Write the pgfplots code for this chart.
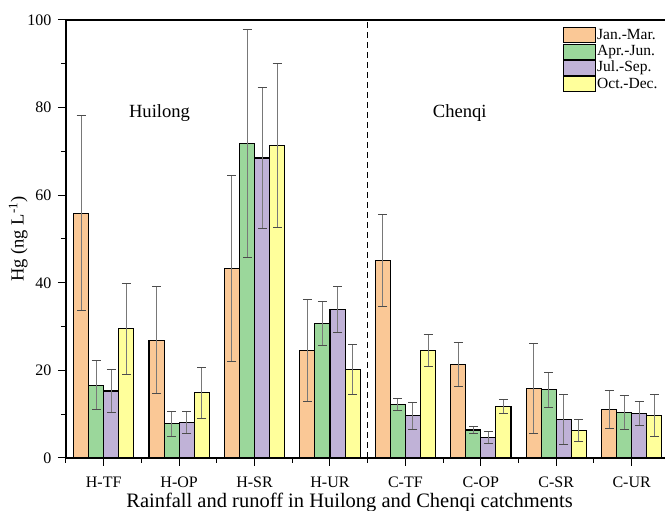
\documentclass[border=0pt]{standalone}
\usepackage{pgfplots}
\pgfplotsset{compat=1.18}
\usepackage{pgfplotstable}
\usepackage{fontspec}
\setmainfont{Liberation Serif}
\definecolor{cJan}{RGB}{250,200,150}
\definecolor{cApr}{RGB}{155,215,155}
\definecolor{cJul}{RGB}{192,178,215}
\definecolor{cOct}{RGB}{255,255,155}
\definecolor{errc}{RGB}{120,120,120}

\pgfplotstableread{
x y e
0 55.9 22.2
1 26.9 12.2
2 43.3 21.3
3 24.6 11.6
4 45.1 10.4
5 21.4 5.0
6 15.9 10.2
7 11.1 4.4
}\tJan
\pgfplotstableread{
x y e
0 16.6 5.6
1 7.8 2.8
2 71.8 26.0
3 30.7 5.0
4 12.2 1.3
5 6.4 0.8
6 15.6 4.0
7 10.4 3.8
}\tApr
\pgfplotstableread{
x y e
0 15.3 5.0
1 8.1 2.5
2 68.5 16.2
3 33.9 5.2
4 9.6 3.0
5 4.6 1.4
6 8.7 5.7
7 10.2 2.7
}\tJul
\pgfplotstableread{
x y e
0 29.5 10.4
1 14.9 5.8
2 71.4 18.7
3 20.2 5.6
4 24.6 3.6
5 11.7 1.6
6 6.2 2.5
7 9.7 4.9
}\tOct

\begin{document}
\begin{tikzpicture}[x=1pt,y=1pt]
\clip (-66,-53) rectangle (599,458);
\begin{axis}[
  at={(0,0)}, anchor=south west,
  scale only axis, width=603.4pt, height=438pt,
  xmin=-0.5, xmax=7.5, ymin=0, ymax=100,
  ybar, bar width=0.2,
  xtick={0,...,7},
  xticklabels={H-TF,H-OP,H-SR,H-UR,C-TF,C-OP,C-SR,C-UR},
  minor xtick={-0.5,0.5,...,7.5},
  ytick={0,20,...,100},
  minor ytick={10,30,...,90},
  tick align=outside,
  xtick pos=left, ytick pos=left,
  major tick length=8pt, minor tick length=5pt,
  tick style={black, line width=1pt},
  axis line style={line width=1.2pt},
  /pgf/number format/assume math mode=true,
  tick label style={font=\fontsize{16}{19}\selectfont},
  xticklabel style={yshift=-7pt},
  yticklabel style={xshift=-3pt},
  xlabel={Rainfall and runoff in Huilong and Chenqi catchments},
  xlabel style={font=\fontsize{20.5}{23}\selectfont, at={(rel axis cs:0.47,0)}, anchor=base, yshift=-50pt},
  ylabel={Hg (ng L\textsuperscript{-1})},
  ylabel style={font=\fontsize{18.5}{21}\selectfont, yshift=-7pt},
  legend style={at={(rel axis cs:0.8237,0.984)}, anchor=north west, draw=none, fill=none,
    font=\fontsize{15.5}{17}\selectfont, row sep=0pt, inner sep=0pt,
    nodes={inner sep=1pt, text height=11pt, text depth=3.3pt}},
  legend cell align=left,
  mylegend/.style={legend image code/.code={\draw[##1, line width=1pt] (0pt,-7.5pt) rectangle (32pt,7.5pt);}},
  error bars/y dir=both, error bars/y explicit,
  error bars/error bar style={color=errc, line width=1pt},
  error bars/error mark options={rotate=90, mark size=4.5pt, line width=1pt, color=black!70},
]
\addplot[fill=cJan, draw=black, line width=1.1pt, bar shift=-0.3, mylegend] table[x=x,y=y,y error=e]{\tJan};
\addlegendentry{Jan.-Mar.}
\addplot[fill=cApr, draw=black, line width=1.1pt, bar shift=-0.1, mylegend] table[x=x,y=y,y error=e]{\tApr};
\addlegendentry{Apr.-Jun.}
\addplot[fill=cJul, draw=black, line width=1.1pt, bar shift=0.1, mylegend] table[x=x,y=y,y error=e]{\tJul};
\addlegendentry{Jul.-Sep.}
\addplot[fill=cOct, draw=black, line width=1.1pt, bar shift=0.3, mylegend] table[x=x,y=y,y error=e]{\tOct};
\addlegendentry{Oct.-Dec.}
\draw[line width=1.2pt, dash pattern=on 6pt off 4pt] (axis cs:3.5,0) -- (axis cs:3.5,100);
\node[font=\fontsize{18.6}{21}\selectfont] at (axis cs:0.74,78.8) {Huilong};
\node[font=\fontsize{18.6}{21}\selectfont] at (axis cs:4.72,78.8) {Chenqi};
\end{axis}
\end{tikzpicture}
\end{document}
